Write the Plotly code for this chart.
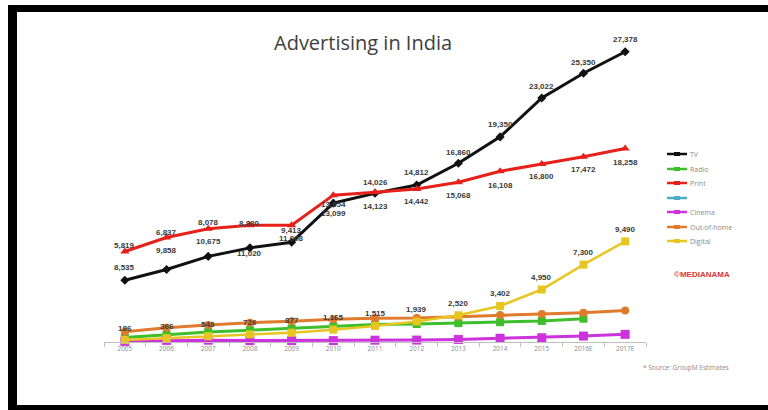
import plotly.graph_objects as go

# ---- data (Rs crore) ----
years = ["2005", "2006", "2007", "2008", "2009", "2010", "2011", "2012",
         "2013", "2014", "2015", "2016E", "2017E"]
tv = [5819, 6837, 8078, 8880, 9413, 13099, 14026, 14812, 16860, 19350, 23022, 25350, 27378]
print_ = [8535, 9858, 10675, 11020, 11008, 13854, 14123, 14442, 15068, 16108, 16800, 17472, 18258]
radio = [430, 700, 950, 1120, 1280, 1480, 1650, 1700, 1780, 1870, 1990, 2200, None]
cinema = [60, 150, 170, 130, 130, 130, 170, 180, 240, 350, 400, 560, 720]
ooh = [970, 1350, 1600, 1820, 1950, 2140, 2240, 2260, 2390, 2550, 2640, 2770, 2960]
digital = [186, 366, 548, 726, 877, 1165, 1515, 1939, 2520, 3402, 4950, 7300, 9490]

# label vertical offsets in pixels (positive = above the point)
tv_label_shift = [35, 37, 34, 24, 12, -10, 11, 12, 11, 12, 11, 11, 12]
print_label_shift = [-16, -13, -13, -28, -13, -9, -14, -13, -13, -14, -13, -13, -14]
digital_label_shift = [12] * 13

W, H = 768, 410
L, R, T, B = 104, 122, 24, 68
PW, PH = W - L - R, H - T - B


def px(x):
    return (x - L) / PW


def py(y):
    return (H - B - y) / PH


fig = go.Figure()

series = [
    ("TV", tv, "#111111", "diamond", 7, 3),
    ("Radio", radio, "#3cbf2a", "square", 8, 3),
    ("Print", print_, "#e8201a", "triangle-up", 8, 3),
    ("Cinema", cinema, "#cc33dd", "square", 9, 3),
    ("Out-of-home", ooh, "#e07a2c", "circle", 8, 3),
    ("Digital", digital, "#e8c622", "square", 8, 2.5),
]
for name, vals, color, sym, ms, lw in series:
    fig.add_trace(go.Scatter(
        x=years, y=vals, name=name, mode="lines+markers",
        line=dict(color=color, width=lw),
        marker=dict(symbol=sym, size=ms, color=color),
        connectgaps=False, cliponaxis=False, showlegend=False,
    ))

label_font = dict(family="Liberation Sans", size=8, color="#3a3a3a")
annotations = []
for vals, shifts in [(tv, tv_label_shift), (print_, print_label_shift),
                     (digital, digital_label_shift)]:
    # category axes place annotations by category index
    for i, (v, s) in enumerate(zip(vals, shifts)):
        annotations.append(dict(
            x=i, y=v, xref="x", yref="y", text=f"<b>{v:,}</b>",
            showarrow=False, yshift=s, xanchor="center", yanchor="middle",
            font=label_font,
        ))

# title
annotations.append(dict(
    x=px(363), y=py(42), xref="paper", yref="paper", text="Advertising in India",
    showarrow=False, xanchor="center", yanchor="middle",
    font=dict(family="Open Sans", size=20, color="#404040"),
))

# legend drawn at the right of the plot
legend_items = [
    ("TV", "#111111", 154),
    ("Radio", "#3cbf2a", 169),
    ("Print", "#e8201a", 183),
    ("", "#4bacc6", 198),
    ("Cinema", "#cc33dd", 212),
    ("Out-of-home", "#e07a2c", 227),
    ("Digital", "#e8c622", 241),
]
shapes = []
for name, color, yy in legend_items:
    shapes.append(dict(type="line", xref="paper", yref="paper",
                       x0=px(667), x1=px(687), y0=py(yy), y1=py(yy),
                       line=dict(color=color, width=2.5)))
    shapes.append(dict(type="rect", xref="paper", yref="paper",
                       x0=px(674), x1=px(680), y0=py(yy - 2), y1=py(yy + 2),
                       line=dict(width=0), fillcolor=color))
    if name:
        annotations.append(dict(
            x=px(688), y=py(yy), xref="paper", yref="paper", text=name,
            showarrow=False, xanchor="left", yanchor="middle",
            font=dict(family="Open Sans", size=7, color="#8a8a8a"),
        ))

annotations.append(dict(
    x=px(702), y=py(274), xref="paper", yref="paper", text="<b>©MEDIANAMA</b>",
    showarrow=False, xanchor="center", yanchor="middle",
    font=dict(family="Liberation Sans", size=8, color="#e03838"),
))
annotations.append(dict(
    x=px(686), y=py(367), xref="paper", yref="paper",
    text="* Source: GroupM Estimates",
    showarrow=False, xanchor="center", yanchor="middle",
    font=dict(family="Open Sans", size=6.5, color="#8a8a8a"),
))

# black frame
for x0, x1, y0, y1 in [(8, 768, 5, 12), (8, 17, 5, 410), (8, 768, 405, 410)]:
    shapes.append(dict(type="rect", xref="paper", yref="paper",
                       x0=px(x0), x1=px(x1), y0=py(y1), y1=py(y0),
                       line=dict(width=0), fillcolor="#000000", layer="above"))

fig.update_layout(
    width=W, height=H,
    margin=dict(l=L, r=R, t=T, b=B),
    paper_bgcolor="white", plot_bgcolor="white",
    showlegend=False,
    xaxis=dict(
        type="category", range=[-0.5, 12.5], showgrid=False, zeroline=False,
        showline=True, linecolor="#bfbfbf", linewidth=1,
        ticks="outside", tickson="boundaries", ticklen=4, tickcolor="#bfbfbf",
        tickfont=dict(family="Open Sans", size=6.5, color="#8a8a8a"),
    ),
    yaxis=dict(range=[0, 30000], visible=False, showgrid=False, zeroline=False),
    annotations=annotations,
    shapes=shapes,
)

fig.write_html("out.html")
